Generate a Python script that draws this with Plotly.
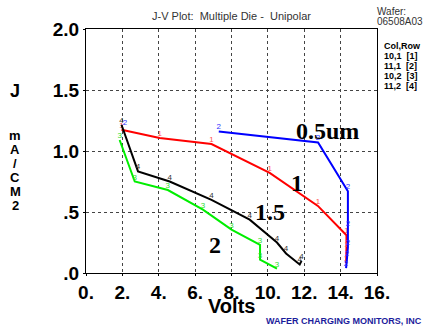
import plotly.graph_objects as go

# Series data (Volts, J in mA/cm2)
red_x = [1.95, 4.05, 6.9, 10.1, 12.75, 14.32, 14.32, 14.3]
red_y = [1.175, 1.106, 1.057, 0.82, 0.55, 0.31, 0.2, 0.08]
blue_x = [7.3, 12.76, 14.4, 14.4, 14.4, 14.35, 14.3]
blue_y = [1.16, 1.07, 0.67, 0.37, 0.21, 0.12, 0.04]
green_x = [1.85, 2.68, 4.5, 6.43, 8.0, 9.57, 9.57, 10.5]
green_y = [1.09, 0.75, 0.68, 0.52, 0.355, 0.23, 0.11, 0.035]
black_x = [1.95, 2.86, 4.6, 6.9, 9.0, 10.5, 11.0, 11.75, 11.85]
black_y = [1.215, 0.833, 0.75, 0.6, 0.437, 0.25, 0.16, 0.07, 0.1]

x_ticks = [0, 2, 4, 6, 8, 10, 12, 14, 16]
x_ticktext = ["0.", "2.", "4.", "6.", "8.", "10.", "12.", "14.", "16."]
y_ticks = [0, 0.5, 1.0, 1.5, 2.0]
y_ticktext = [".0", ".5", "1.0", "1.5", "2.0"]

curve_labels = ["0.5um", "1", "1.5", "2"]
curve_label_x = [13.3, 11.6, 10.1, 7.1]
curve_label_y = [1.16, 0.74, 0.5, 0.23]

legend_lines = ["Col,Row", "10,1  [1]", "11,1  [2]", "10,2  [3]", "11,2  [4]"]

series = [
    (red_x, red_y, "#ff0000", "#ff5050", "1"),
    (blue_x, blue_y, "#0000ff", "#3030ff", "2"),
    (green_x, green_y, "#00ee00", "#30e030", "3"),
    (black_x, black_y, "#000000", "#333333", "4"),
]

fig = go.Figure()
for xs, ys, col, tcol, lab in series:
    fig.add_trace(go.Scatter(
        x=xs, y=ys, mode="lines+text", text=[lab] * len(xs),
        textposition="top center",
        textfont=dict(family="Liberation Sans", size=8, color=tcol),
        line=dict(color=col, width=2), showlegend=False, hoverinfo="skip"))

# stray label for series 2 near start
extra_x = [2.15]
extra_y = [1.2]
fig.add_trace(go.Scatter(x=extra_x, y=extra_y, mode="text", text=["2"],
                         textposition="top center",
                         textfont=dict(family="Liberation Sans", size=8, color="#3030ff"),
                         showlegend=False, hoverinfo="skip"))

for t, xx, yy in zip(curve_labels, curve_label_x, curve_label_y):
    fig.add_annotation(x=xx, y=yy, text=t, showarrow=False,
                       font=dict(family="Liberation Serif", size=24, color="black", weight="bold"))

axis_common = dict(showline=True, linecolor="black", linewidth=1, mirror=True,
                   showgrid=True, gridcolor="#444", griddash="dot", gridwidth=1,
                   ticks="outside", ticklen=2, tickcolor="black", zeroline=False,
                   tickfont=dict(family="Liberation Sans", size=19, color="black", weight="bold"))

fig.update_xaxes(range=[0, 16], tickvals=x_ticks, ticktext=x_ticktext, **axis_common)
fig.update_yaxes(range=[0, 2], tickvals=y_ticks, ticktext=y_ticktext, **axis_common)

W, H = 423, 328
L, R, T, B = 86, 46, 29, 55
pw, ph = W - L - R, H - T - B

def px(x):
    return (x - L) / pw

def py(y):
    return (H - B - y) / ph

def ann(text, x, y, size, color="black", bold=False, xanchor="center", family="Liberation Sans"):
    fig.add_annotation(x=px(x), y=py(y), xref="paper", yref="paper", text=text,
                       showarrow=False, xanchor=xanchor, yanchor="middle",
                       font=dict(family=family, size=size, color=color,
                                 weight="bold" if bold else "normal"))

ann("J-V Plot:  Multiple Die -  Unipolar", 231, 16, 11, color="#333")
ann("Wafer:", 375, 11, 10, color="#333", xanchor="left")
ann("06508A03", 375, 22, 10, color="#333", xanchor="left")
for i, t in enumerate(legend_lines):
    ann(t, 382, 46 + 10 * i, 9, bold=True, xanchor="left")
ann("Volts", 231, 306, 20, bold=True)
ann("J", 15, 91, 18, bold=True)
for i, ch in enumerate(["m", "A", "/", "C", "M", "2"]):
    ann(ch, 15, 135 + 14 * i, 13, bold=True)
ann("WAFER CHARGING MONITORS, INC", 344, 321, 9, color="#1c1c9c", bold=True)

fig.update_layout(width=W, height=H, margin=dict(l=L, r=R, t=T, b=B),
                  paper_bgcolor="white", plot_bgcolor="white")

fig.write_html("out.html", config={"displayModeBar": False},
               post_script="document.body.style.margin='0';document.body.style.overflow='hidden';")
